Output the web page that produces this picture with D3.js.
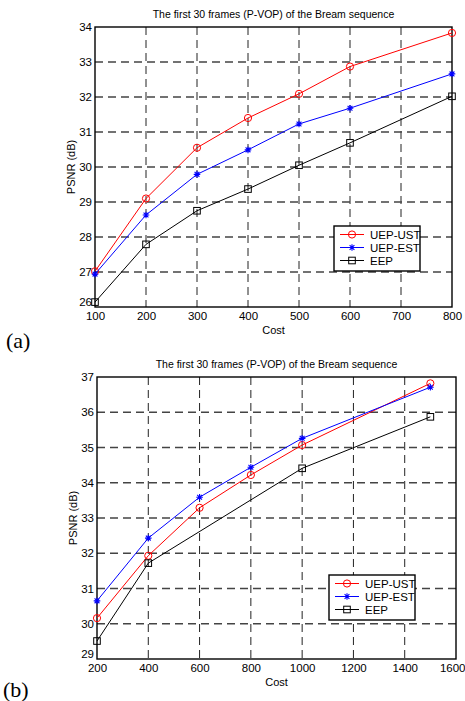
<!DOCTYPE html>
<html>
<head>
<meta charset="utf-8">
<script src="https://cdn.jsdelivr.net/npm/d3@7"></script>
<style>
  body { margin: 0; background: #fff; }
  svg { display: block; }
  text { font-family: "Liberation Sans", Arial, sans-serif; fill: #000; }
  .panel-label { font-family: "Liberation Serif", "Times New Roman", serif; font-size: 22px; }
</style>
</head>
<body>
<div class="wrapper"></div>
<script>
// chart values
const titleText = "The first 30 frames (P-VOP) of the Bream sequence";
const seriesNames = ["UEP-UST", "UEP-EST", "EEP"];

// (a)
const costA = [100, 200, 300, 400, 500, 600, 800];
const uepUstA = [27.02, 29.1, 30.55, 31.4, 32.09, 32.87, 33.83];
const uepEstA = [26.94, 28.63, 29.79, 30.49, 31.23, 31.68, 32.66];
const eepA = [26.14, 27.79, 28.75, 29.37, 30.05, 30.69, 32.02];
const xTicksA = [100, 200, 300, 400, 500, 600, 700, 800];
const yTicksA = [26, 27, 28, 29, 30, 31, 32, 33, 34];

// (b)
const costB = [200, 400, 600, 800, 1000, 1500];
const uepUstB = [30.16, 31.93, 33.29, 34.22, 35.07, 36.82];
const uepEstB = [30.65, 32.43, 33.59, 34.44, 35.26, 36.71];
const costEepB = [200, 400, 1000, 1500];
const eepB = [29.51, 31.72, 34.41, 35.87];
const xTicksB = [200, 400, 600, 800, 1000, 1200, 1400, 1600];
const yTicksB = [29, 30, 31, 32, 33, 34, 35, 36, 37];

const styles = [
  {color: '#ff0000', marker: 'circle'},
  {color: '#0000ff', marker: 'star'},
  {color: '#000000', marker: 'square'}
];

const svg = d3.select('.wrapper').append('svg')
  .attr('width', 465)
  .attr('height', 701);

const drawMarker = (g, type, x, y, color) => {
  if (type === 'circle') {
    g.append('circle').attr('cx', x).attr('cy', y).attr('r', 3.6)
      .attr('fill', 'none').attr('stroke', color).attr('stroke-width', 1);
  } else if (type === 'square') {
    g.append('rect').attr('x', x - 3.3).attr('y', y - 3.3).attr('width', 6.6).attr('height', 6.6)
      .attr('fill', 'none').attr('stroke', color).attr('stroke-width', 1);
  } else {
    const s = 3.3, d = 2.4;
    const p = `M${x - s},${y}L${x + s},${y}M${x},${y - s}L${x},${y + s}` +
      `M${x - d},${y - d}L${x + d},${y + d}M${x - d},${y + d}L${x + d},${y - d}`;
    g.append('path').attr('d', p).attr('stroke', color).attr('stroke-width', 1.1).attr('fill', 'none');
  }
};

const drawChart = (cfg) => {
  const g = svg.append('g');
  const x = d3.scaleLinear().domain(cfg.xDomain).range([cfg.left, cfg.right]);
  const y = d3.scaleLinear().domain(cfg.yDomain).range([cfg.bottom, cfg.top]);

  // grid
  g.append('g').selectAll('line')
    .data(cfg.xTicks.slice(1, -1))
    .enter().append('line')
    .attr('x1', d => x(d)).attr('x2', d => x(d))
    .attr('y1', cfg.top).attr('y2', cfg.bottom)
    .attr('stroke', '#222').attr('stroke-width', 1).attr('stroke-dasharray', '8,5');

  g.append('g').selectAll('line')
    .data(cfg.yTicks.slice(1, -1))
    .enter().append('line')
    .attr('y1', d => y(d)).attr('y2', d => y(d))
    .attr('x1', cfg.left).attr('x2', cfg.right)
    .attr('stroke', '#444').attr('stroke-width', 1.3).attr('stroke-dasharray', '8,5');

  // axes
  const xAxis = g.append('g')
    .attr('transform', `translate(0,${cfg.bottom})`)
    .call(d3.axisBottom(x).tickValues(cfg.xTicks).tickFormat(d3.format('d')).tickSize(0).tickPadding(5));
  const yAxis = g.append('g')
    .attr('transform', `translate(${cfg.left},0)`)
    .call(d3.axisLeft(y).tickValues(cfg.yTicks).tickFormat(d3.format('d')).tickSize(0).tickPadding(3));
  [xAxis, yAxis].forEach(a => {
    a.select('.domain').remove();
    a.selectAll('text').style('font-size', '11.5px').attr('fill', '#000');
  });
  // lowest y label sits in the corner; lift it clear of the first x label
  yAxis.selectAll('.tick text')
    .filter(d => d === cfg.yTicks[0])
    .attr('y', -5);
  // last x label runs off the page edge in the original; keep it inside
  xAxis.selectAll('.tick text')
    .filter(d => d === 1600)
    .attr('text-anchor', 'end').attr('x', 465 - cfg.right);

  g.append('rect')
    .attr('x', cfg.left).attr('y', cfg.top)
    .attr('width', cfg.right - cfg.left).attr('height', cfg.bottom - cfg.top)
    .attr('fill', 'none').attr('stroke', '#000').attr('stroke-width', 1.4);

  // series
  cfg.series.forEach((s, i) => {
    const st = styles[i];
    const pts = s.xs.map((v, j) => [x(v), y(s.ys[j])]);
    g.append('path')
      .attr('d', d3.line()(pts))
      .attr('fill', 'none').attr('stroke', st.color).attr('stroke-width', 1);
    const mg = g.append('g');
    pts.forEach(p => drawMarker(mg, st.marker, p[0], p[1], st.color));
  });

  // title and labels
  g.append('text')
    .attr('x', (cfg.left + cfg.right) / 2).attr('y', cfg.top - 9)
    .attr('text-anchor', 'middle').style('font-size', '10.5px')
    .text(titleText);

  g.append('text')
    .attr('x', (cfg.left + cfg.right) / 2).attr('y', cfg.bottom + 27)
    .attr('text-anchor', 'middle').style('font-size', '11px')
    .text('Cost');

  g.append('text')
    .attr('transform', `translate(${cfg.left - 20},${(cfg.top + cfg.bottom) / 2}) rotate(-90)`)
    .attr('text-anchor', 'middle').style('font-size', '11px')
    .text('PSNR (dB)');

  // legend
  const lg = g.append('g').attr('transform', `translate(${cfg.legend[0]},${cfg.legend[1]})`);
  lg.append('rect').attr('width', 86).attr('height', 45)
    .attr('fill', '#fff').attr('stroke', '#000').attr('stroke-width', 1.4);
  seriesNames.forEach((name, i) => {
    const ly = 8.5 + i * 13;
    lg.append('line').attr('x1', 6).attr('x2', 30).attr('y1', ly).attr('y2', ly)
      .attr('stroke', styles[i].color).attr('stroke-width', 1);
    drawMarker(lg, styles[i].marker, 18, ly, styles[i].color);
    lg.append('text').attr('x', 36).attr('y', ly + 4)
      .style('font-size', '11.5px').text(name);
  });

  svg.append('text').attr('class', 'panel-label')
    .attr('x', cfg.label[0]).attr('y', cfg.label[1])
    .text(cfg.labelText);
};

drawChart({
  left: 95, right: 452, top: 27, bottom: 307,
  xDomain: [100, 800], yDomain: [26, 34],
  xTicks: xTicksA, yTicks: yTicksA,
  series: [
    {xs: costA, ys: uepUstA},
    {xs: costA, ys: uepEstA},
    {xs: costA, ys: eepA}
  ],
  legend: [334, 226],
  label: [6, 348], labelText: '(a)'
});

drawChart({
  left: 97, right: 456, top: 377, bottom: 659,
  xDomain: [200, 1600], yDomain: [29, 37],
  xTicks: xTicksB, yTicks: yTicksB,
  series: [
    {xs: costB, ys: uepUstB},
    {xs: costB, ys: uepEstB},
    {xs: costEepB, ys: eepB}
  ],
  legend: [329, 575],
  label: [3, 697], labelText: '(b)'
});
</script>
</body>
</html>
